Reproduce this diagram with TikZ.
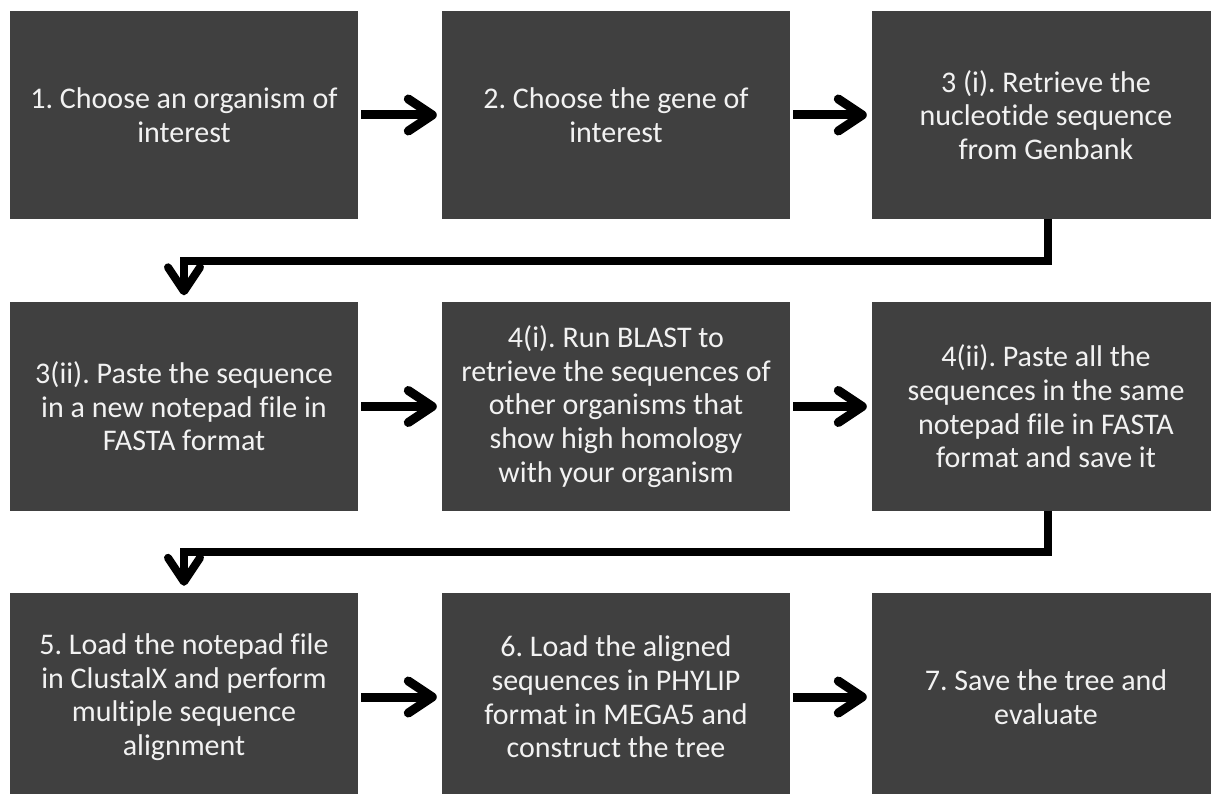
\documentclass[tikz,border=0pt]{standalone}
\usepackage{fontspec}
\setmainfont{Carlito}[Ligatures=CommonOff]
\usetikzlibrary{arrows.meta}
\definecolor{boxgray}{HTML}{404040}
\definecolor{textc}{HTML}{F2F2F2}
\tikzset{
  stepbox/.style={fill=boxgray, draw=none, minimum width=348pt, minimum height=208pt,
    inner sep=0pt, align=center, text=textc,
    font=\fontsize{30}{33.6}\selectfont},
  arr/.style={line width=9pt, draw=black,
    -{Straight Barb[length=24pt, width=32pt, round]}},
  link/.style={line width=8pt, draw=black,
    -{Straight Barb[length=24pt, width=32pt, round]}}
}
\begin{document}
\frenchspacing
\begin{tikzpicture}[x=1pt, y=-1pt]
\path[use as bounding box, clip] (0,0) rectangle (1211,794);
\fill[white] (0,0) rectangle (1211,794);
\node[stepbox] (b1) at (184,115) {1. Choose an organism of\\interest};
\node[stepbox] (b2) at (616,115) {2. Choose the gene of\\interest};
\node[stepbox] (b3) at (1046,115) {3 (i). Retrieve the\\nucleotide sequence\\from Genbank};
\node[stepbox] (b4) at (184,406.5) {3(ii). Paste the sequence\\in a new notepad file in\\FASTA format};
\node[stepbox] (b5) at (616,406.5) {4(i). Run BLAST to\\retrieve the sequences of\\other organisms that\\show high homology\\with your organism};
\node[stepbox] (b6) at (1046,406.5) {4(ii). Paste all the\\sequences in the same\\notepad file in FASTA\\format and save it};
\node[stepbox] (b7) at (184,697) {5. Load the notepad file\\in ClustalX and perform\\multiple sequence\\alignment};
\node[stepbox] (b8) at (616,697) {6. Load the aligned\\sequences in PHYLIP\\format in MEGA5 and\\construct the tree};
\node[stepbox] (b9) at (1046,697) {7. Save the tree and\\evaluate};
\draw[arr, shorten <=3pt, shorten >=5pt] (b1) -- (b2);
\draw[arr, shorten <=3pt, shorten >=5pt] (b2) -- (b3);
\draw[arr, shorten <=3pt, shorten >=5pt] (b4) -- (b5);
\draw[arr, shorten <=3pt, shorten >=5pt] (b5) -- (b6);
\draw[arr, shorten <=3pt, shorten >=5pt] (b7) -- (b8);
\draw[arr, shorten <=3pt, shorten >=5pt] (b8) -- (b9);
\coordinate (k1) at (1048,261);
\coordinate (k2) at (1048,552);
\draw[link] (b3.south -| k1) -- (k1) -| ([yshift=7pt]b4.north);
\draw[link] (b6.south -| k2) -- (k2) -| ([yshift=7pt]b7.north);
\end{tikzpicture}
\end{document}
